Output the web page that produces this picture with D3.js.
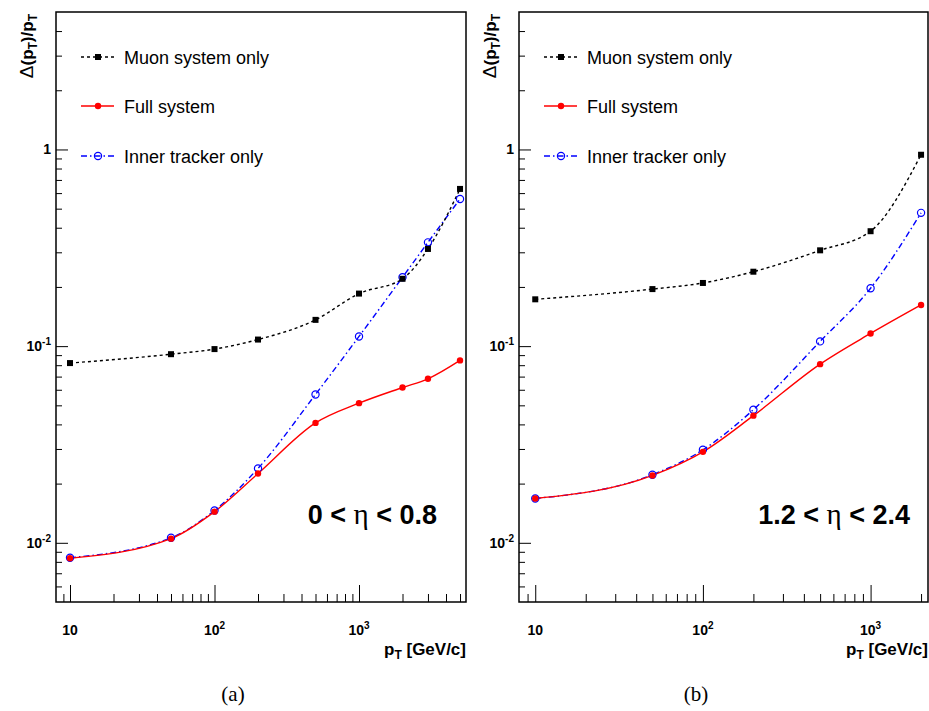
<!DOCTYPE html>
<html>
<head>
<meta charset="utf-8">
<script src="https://cdn.jsdelivr.net/npm/d3@7"></script>
<style>
  body { margin: 0; background: #fff; }
  svg { display: block; }
</style>
</head>
<body>
<script>
// transverse momentum points (GeV/c)
var ptA = [10, 50, 100, 200, 500, 1000, 2000, 3000, 5000];
var muonA = [0.082, 0.091, 0.0966, 0.108, 0.136, 0.185, 0.22, 0.312, 0.63];
var fullA = [0.00834, 0.0105, 0.0144, 0.0225, 0.0407, 0.0513, 0.0616, 0.0682, 0.0846];
var innerA = [0.0084, 0.0106, 0.0146, 0.0239, 0.0568, 0.112, 0.224, 0.337, 0.56];

var ptB = [10, 50, 100, 200, 500, 1000, 2000];
var muonB = [0.173, 0.195, 0.2095, 0.239, 0.307, 0.384, 0.94];
var fullB = [0.0168, 0.022, 0.029, 0.0443, 0.081, 0.116, 0.162];
var innerB = [0.0168, 0.0222, 0.0297, 0.0475, 0.1057, 0.197, 0.476];

var seriesNames = ['Muon system only', 'Full system', 'Inner tracker only'];
var xTickLabels = [['10', ''], ['10', '2'], ['10', '3']];
var xTickValues = [10, 100, 1000];
var yTickLabels = [['10', '-2'], ['10', '-1'], ['1', '']];
var yTickValues = [0.01, 0.1, 1];
var etaLabels = [['0 < ', ' < 0.8'], ['1.2 < ', ' < 2.4']];
var panelLabels = ['(a)', '(b)'];

var sans = '"Liberation Sans", Arial, sans-serif';
var serif = '"Liberation Serif", "DejaVu Serif", serif';

var styles = [
  { color: '#000', dash: '3,3', marker: 'square' },
  { color: '#f00', dash: null, marker: 'dot' },
  { color: '#00f', dash: '6,3,1.5,3', marker: 'ring' }
];

var svg = d3.select('body').append('svg')
  .attr('width', 929)
  .attr('height', 711)
  .style('font-family', sans);

function logTicks(lo, hi) {
  var out = [];
  for (var e = -4; e <= 5; e++) {
    for (var m = 1; m < 10; m++) {
      var v = m * Math.pow(10, e);
      if (v >= lo * 0.999 && v <= hi * 1.001) out.push(v);
    }
  }
  return out;
}

function drawMarker(g, type, color, cx, cy) {
  if (type === 'square') {
    g.append('rect').attr('x', cx - 3).attr('y', cy - 3).attr('width', 6).attr('height', 6).attr('fill', color);
  } else if (type === 'dot') {
    g.append('circle').attr('cx', cx).attr('cy', cy).attr('r', 3.2).attr('fill', color);
  } else {
    g.append('circle').attr('cx', cx).attr('cy', cy).attr('r', 3.6)
      .attr('fill', 'none').attr('stroke', color).attr('stroke-width', 1.2);
  }
}

function drawPanel(p) {
  var x = d3.scaleLog().domain(p.xDomain).range([p.left, p.right]);
  var y = d3.scaleLog().domain([0.005, 5]).range([p.bottom, p.top]);
  var g = svg.append('g');

  // minor and major ticks, pointing inward
  var yMinor = logTicks(0.005, 5).filter(function(v) { return yTickValues.indexOf(v) < 0 && v > 0.005 && v < 5; });
  var xMinor = logTicks(p.xDomain[0], p.xDomain[1]).filter(function(v) { return xTickValues.indexOf(v) < 0 && v > p.xDomain[0]; });

  g.append('g').attr('transform', 'translate(' + p.left + ',0)')
    .call(d3.axisLeft(y).tickValues(yMinor).tickSize(-6).tickSizeOuter(0).tickFormat(''));
  g.append('g').attr('transform', 'translate(' + p.left + ',0)')
    .call(d3.axisLeft(y).tickValues(yTickValues).tickSize(-12).tickSizeOuter(0).tickFormat(''));
  g.append('g').attr('transform', 'translate(0,' + p.bottom + ')')
    .call(d3.axisBottom(x).tickValues(xMinor).tickSize(-8).tickSizeOuter(0).tickFormat(''));
  g.append('g').attr('transform', 'translate(0,' + p.bottom + ')')
    .call(d3.axisBottom(x).tickValues(xTickValues).tickSize(-17).tickSizeOuter(0).tickFormat(''));
  g.selectAll('.domain').remove();
  g.selectAll('.tick line').attr('stroke', '#000').attr('stroke-width', 1);

  // frame
  g.append('rect')
    .attr('x', p.left).attr('y', p.top)
    .attr('width', p.right - p.left).attr('height', p.bottom - p.top)
    .attr('fill', 'none').attr('stroke', '#000').attr('stroke-width', 1.5);

  // tick labels
  yTickValues.forEach(function(v, i) {
    var t = g.append('text')
      .attr('x', p.left - 5).attr('y', y(v) + 5)
      .attr('text-anchor', 'end')
      .attr('font-size', 14).attr('font-weight', 'bold');
    t.append('tspan').text(yTickLabels[i][0]);
    if (yTickLabels[i][1]) t.append('tspan').attr('dy', -6).attr('font-size', 10).text(yTickLabels[i][1]);
  });
  xTickValues.forEach(function(v, i) {
    var t = g.append('text')
      .attr('x', x(v)).attr('y', 635)
      .attr('text-anchor', 'middle')
      .attr('font-size', 14).attr('font-weight', 'bold');
    t.append('tspan').text(xTickLabels[i][0]);
    if (xTickLabels[i][1]) t.append('tspan').attr('dy', -6).attr('font-size', 10).text(xTickLabels[i][1]);
  });

  // axis titles
  var yt = g.append('text')
    .attr('transform', 'translate(' + (p.left - 23) + ',' + (p.top + 2) + ') rotate(-90)')
    .attr('text-anchor', 'end')
    .attr('font-size', 17).attr('font-weight', 'bold');
  yt.append('tspan').attr('font-weight', 'normal').attr('font-size', 19).text('\u0394');
  yt.append('tspan').text('(p');
  yt.append('tspan').attr('dy', 4).attr('font-size', 12).text('T');
  yt.append('tspan').attr('dy', -4).text(')/p');
  yt.append('tspan').attr('dy', 4).attr('font-size', 12).text('T');

  var xt = g.append('text')
    .attr('x', p.right).attr('y', 655)
    .attr('text-anchor', 'end')
    .attr('font-size', 17).attr('font-weight', 'bold');
  xt.append('tspan').text('p');
  xt.append('tspan').attr('dy', 4).attr('font-size', 12).text('T');
  xt.append('tspan').attr('dy', -4).text(' [GeV/c]');

  // curves
  var clipId = 'clip' + p.id;
  svg.append('clipPath').attr('id', clipId).append('rect')
    .attr('x', p.left).attr('y', p.top)
    .attr('width', p.right - p.left).attr('height', p.bottom - p.top);

  var line = d3.line()
    .x(function(d) { return x(d[0]); })
    .y(function(d) { return y(d[1]); })
    .curve(d3.curveMonotoneX);

  var order = [2, 0, 1];
  order.forEach(function(k) {
    var pts = p.pt.map(function(v, i) { return [v, p.series[k][i]]; });
    g.append('path')
      .attr('clip-path', 'url(#' + clipId + ')')
      .attr('d', line(pts))
      .attr('fill', 'none')
      .attr('stroke', styles[k].color)
      .attr('stroke-width', 1.4)
      .attr('stroke-dasharray', styles[k].dash);
  });
  order.forEach(function(k) {
    p.pt.forEach(function(v, i) {
      drawMarker(g, styles[k].marker, styles[k].color, x(v), y(p.series[k][i]));
    });
  });

  // legend
  var legendY = [57, 106, 156];
  seriesNames.forEach(function(name, k) {
    var lx = p.left + 25;
    g.append('line')
      .attr('x1', lx).attr('x2', lx + 33)
      .attr('y1', legendY[k]).attr('y2', legendY[k])
      .attr('stroke', styles[k].color).attr('stroke-width', 1.4)
      .attr('stroke-dasharray', styles[k].dash);
    drawMarker(g, styles[k].marker, styles[k].color, lx + 17, legendY[k]);
    g.append('text')
      .attr('x', p.left + 68).attr('y', legendY[k] + 7)
      .attr('font-size', 18)
      .text(name);
  });

  var et = g.append('text')
    .attr('x', p.etaRight).attr('y', 524)
    .attr('text-anchor', 'end')
    .attr('font-size', 27).attr('font-weight', 'bold');
  et.append('tspan').text(p.eta[0]);
  et.append('tspan').style('font-family', serif).attr('font-weight', 'normal').attr('font-size', 29).text('\u03b7');
  et.append('tspan').text(p.eta[1]);

  g.append('text')
    .attr('x', p.labelX).attr('y', 701)
    .attr('text-anchor', 'middle')
    .style('font-family', serif)
    .attr('font-size', 21)
    .text(p.label);
}

drawPanel({ id: 'A', left: 56, right: 466, top: 12, bottom: 602, xDomain: [8, 5500],
  pt: ptA, series: [muonA, fullA, innerA], eta: etaLabels[0], etaRight: 437,
  label: panelLabels[0], labelX: 233 });
drawPanel({ id: 'B', left: 519, right: 928, top: 12, bottom: 602, xDomain: [8, 2200],
  pt: ptB, series: [muonB, fullB, innerB], eta: etaLabels[1], etaRight: 910,
  label: panelLabels[1], labelX: 696 });
</script>
</body>
</html>
